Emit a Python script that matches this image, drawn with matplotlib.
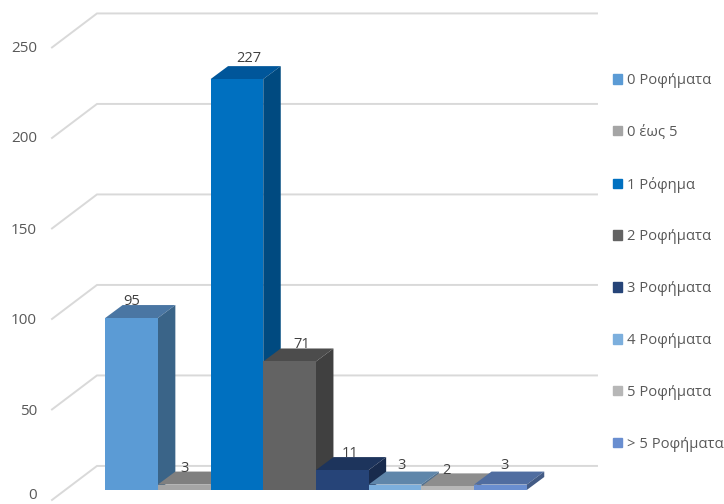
import matplotlib
matplotlib.use('Agg')
from matplotlib import pyplot as plt
from matplotlib.patches import Patch

labels = ['0 Ροφήματα', '0 έως 5', '1 Ρόφημα', '2 Ροφήματα',
          '3 Ροφήματα', '4 Ροφήματα', '5 Ροφήματα', '> 5 Ροφήματα']
values = [95, 3, 227, 71, 11, 3, 2, 3]
yticks = [0, 50, 100, 150, 200, 250]

front_colors = ['#5B9BD5', '#A5A5A5', '#0070C0', '#636363',
                '#264478', '#7CAFDD', '#B7B7B7', '#698ED0']
top_colors = ['#4A76A3', '#7F7F7F', '#00569A', '#4C4C4C',
              '#1D345C', '#5F86AA', '#8D8D8D', '#506DA0']
side_colors = ['#3A6488', '#6A6A6A', '#004A80', '#404040',
               '#182B4D', '#4F7090', '#767676', '#435B85']

# small shifts of the value labels, in px
label_dx = [0, 0, 12, 12, 8, 6, -1, 4]
label_dy = [17, 16, 21, 17, 17, 19, 16, 19]

# small shifts of the tick labels, in px (the 0 sits at the bottom edge)
tick_dy = [-4, 2, 2, 2, 1, 1]

text_color = '#595959'
grid_color = '#D9D9D9'

# pixel scale of the fake 3d box
px_x = 52.7
px_y = 1.81
depth_x = 17.5 / px_x
depth_y = 13 / px_y

plt.rcParams['font.family'] = ['Open Sans', 'DejaVu Sans']
fig = plt.figure(figsize=(7.24, 5.04), dpi=100)
ax = fig.add_axes([0, 0, 1, 1])
ax.set_xlim(-131.5 / px_x, (724 - 131.5) / px_x)
ax.set_ylim(-14 / px_y, 490 / px_y)
ax.axis('off')

# walls: front stub, back line
wall_front = -79.5 / px_x
wall_back = -34.5 / px_x
wall_right = 465.5 / px_x
for t, dy in zip(yticks, tick_dy):
    front_y = t - 5.5
    back_y = t + 13.3
    ax.plot([wall_front, wall_back, wall_right], [front_y, back_y, back_y],
            color=grid_color, lw=1.4, zorder=1, solid_joinstyle='miter')
    ax.text(wall_front - 15 / px_x, front_y - dy / px_y, str(t), ha='right', va='center',
            fontsize=11, color=text_color)

ax.bar(range(len(values)), values, width=1.0, color=front_colors, zorder=3)
for i, v in enumerate(values):
    left = i - 0.5
    right = i + 0.5
    ax.fill([left, right, right + depth_x, left + depth_x],
            [v, v, v + depth_y, v + depth_y],
            color=top_colors[i], lw=0, zorder=2.5)
    ax.fill([right, right + depth_x, right + depth_x, right],
            [0, depth_y, v + depth_y, v],
            color=side_colors[i], lw=0, zorder=2.5)
    ax.text(i + label_dx[i] / px_x, v + label_dy[i] / px_y, str(v),
            ha='center', va='center', fontsize=10.5, color='#404040', zorder=5)

handles = [Patch(color=c, label=l) for c, l in zip(front_colors, labels)]
ax.legend(handles=handles, loc='upper left', bbox_to_anchor=(613 / 724, 1 - 73 / 504),
          frameon=False, fontsize=10.6, labelcolor=text_color, handlelength=0.62,
          handleheight=0.62, handletextpad=0.3, labelspacing=2.5,
          borderaxespad=0, borderpad=0)

fig.savefig('out.png', dpi=100)
